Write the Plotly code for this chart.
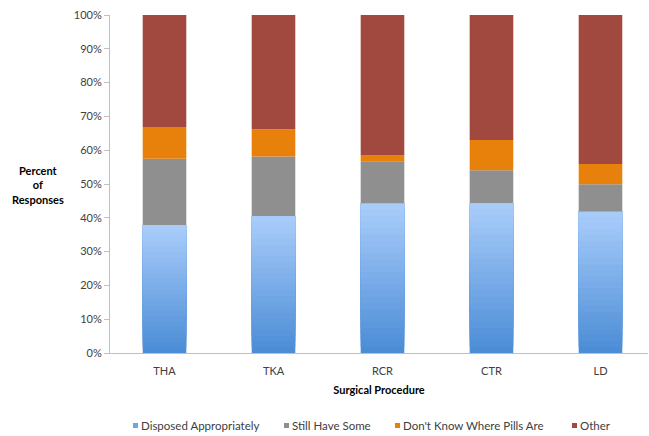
import plotly.graph_objects as go

# Survey responses by surgical procedure (percent of responses)
procedures = ["THA", "TKA", "RCR", "CTR", "LD"]
disposed = [37.9, 40.5, 44.3, 44.4, 41.9]
still_have = [19.6, 17.6, 12.4, 9.7, 8.0]
dont_know = [9.4, 8.1, 1.7, 8.9, 6.0]
other = [33.1, 33.8, 41.6, 37.0, 44.1]
y_ticks = [0, 10, 20, 30, 40, 50, 60, 70, 80, 90, 100]
series_names = ["Disposed Appropriately", "Still Have Some",
                "Don't Know Where Pills Are", "Other"]
series_colors = ["#6FA5E6", "#8F8F8F", "#E8800C", "#A1493F"]

FONT = "Lato, 'Open Sans', sans-serif"
W, H = 649, 436
ML, MR, MT, MB = 110, 1, 15, 83
PW, PH = W - ML - MR, H - MT - MB
BAR_W = 0.40
x = list(range(len(procedures)))


def px_x(p):
    return (p - ML) / PW


def px_y(p):
    return (H - MB - p) / PH


fig = go.Figure()

# Blue segment: overlapping slices from the bottom up give a vertical gradient
N = 24
top_rgb = (168, 204, 250)
bot_rgb = (76, 141, 214)
for k in range(N):
    t = k / (N - 1)
    rgb = tuple(round(b + (a - b) * t) for a, b in zip(top_rgb, bot_rgb))
    fig.add_bar(
        x=x,
        y=[v * (N - k) / N for v in disposed],
        base=[v * k / N for v in disposed],
        width=BAR_W,
        marker=dict(color="rgb(%d,%d,%d)" % rgb, line=dict(width=0)),
        name=series_names[0],
        showlegend=False,
        hoverinfo="skip",
    )

base3 = [a + b for a, b in zip(disposed, still_have)]
base4 = [a + b for a, b in zip(base3, dont_know)]
for name, vals, base, color in [
    (series_names[1], still_have, disposed, series_colors[1]),
    (series_names[2], dont_know, base3, series_colors[2]),
    (series_names[3], other, base4, series_colors[3]),
]:
    fig.add_bar(
        x=x, y=vals, base=base, width=BAR_W, name=name, showlegend=False,
        marker=dict(color=color, line=dict(width=0)),
    )

fig.update_layout(
    width=W,
    height=H,
    barmode="overlay",
    paper_bgcolor="white",
    plot_bgcolor="white",
    margin=dict(l=ML, r=MR, t=MT, b=MB),
    font=dict(family=FONT, size=11, color="#404040"),
    showlegend=False,
)

fig.update_xaxes(
    tickvals=x,
    ticktext=procedures,
    range=[-0.5, 4.436],
    showline=True,
    linecolor="#BFBFBF",
    linewidth=1,
    showgrid=False,
    zeroline=False,
    ticks="",
    ticklabelstandoff=8,
    title=dict(text="<b>Surgical Procedure</b>", font=dict(size=11, color="#000"), standoff=10),
)
fig.update_yaxes(
    range=[0, 100],
    tickvals=y_ticks,
    ticktext=[f"{v}%" for v in y_ticks],
    showline=True,
    linecolor="#BFBFBF",
    linewidth=1,
    ticks="outside",
    ticklen=5,
    tickcolor="#BFBFBF",
    showgrid=False,
    zeroline=False,
    title=None,
)

fig.add_annotation(
    text="<b>Percent<br>of<br>Responses</b>",
    xref="paper", yref="paper",
    x=px_x(38), y=px_y(185),
    xanchor="center", yanchor="middle",
    showarrow=False,
    align="center",
    font=dict(size=11, color="#000"),
)

# Legend row: colour swatch followed by its label
legend_x = [133, 284, 395, 572]
legend_y = 426
for name, color, lx in zip(series_names, series_colors, legend_x):
    fig.add_shape(
        type="rect", xref="paper", yref="paper",
        x0=px_x(lx), x1=px_x(lx + 5),
        y0=px_y(legend_y - 3), y1=px_y(legend_y + 2),
        fillcolor=color, line=dict(width=0),
    )
    fig.add_annotation(
        text=name, xref="paper", yref="paper",
        x=px_x(lx + 6), y=px_y(legend_y),
        xanchor="left", yanchor="middle", showarrow=False,
        font=dict(size=11.5, color="#404040"),
    )

fig.write_html("out.html")
